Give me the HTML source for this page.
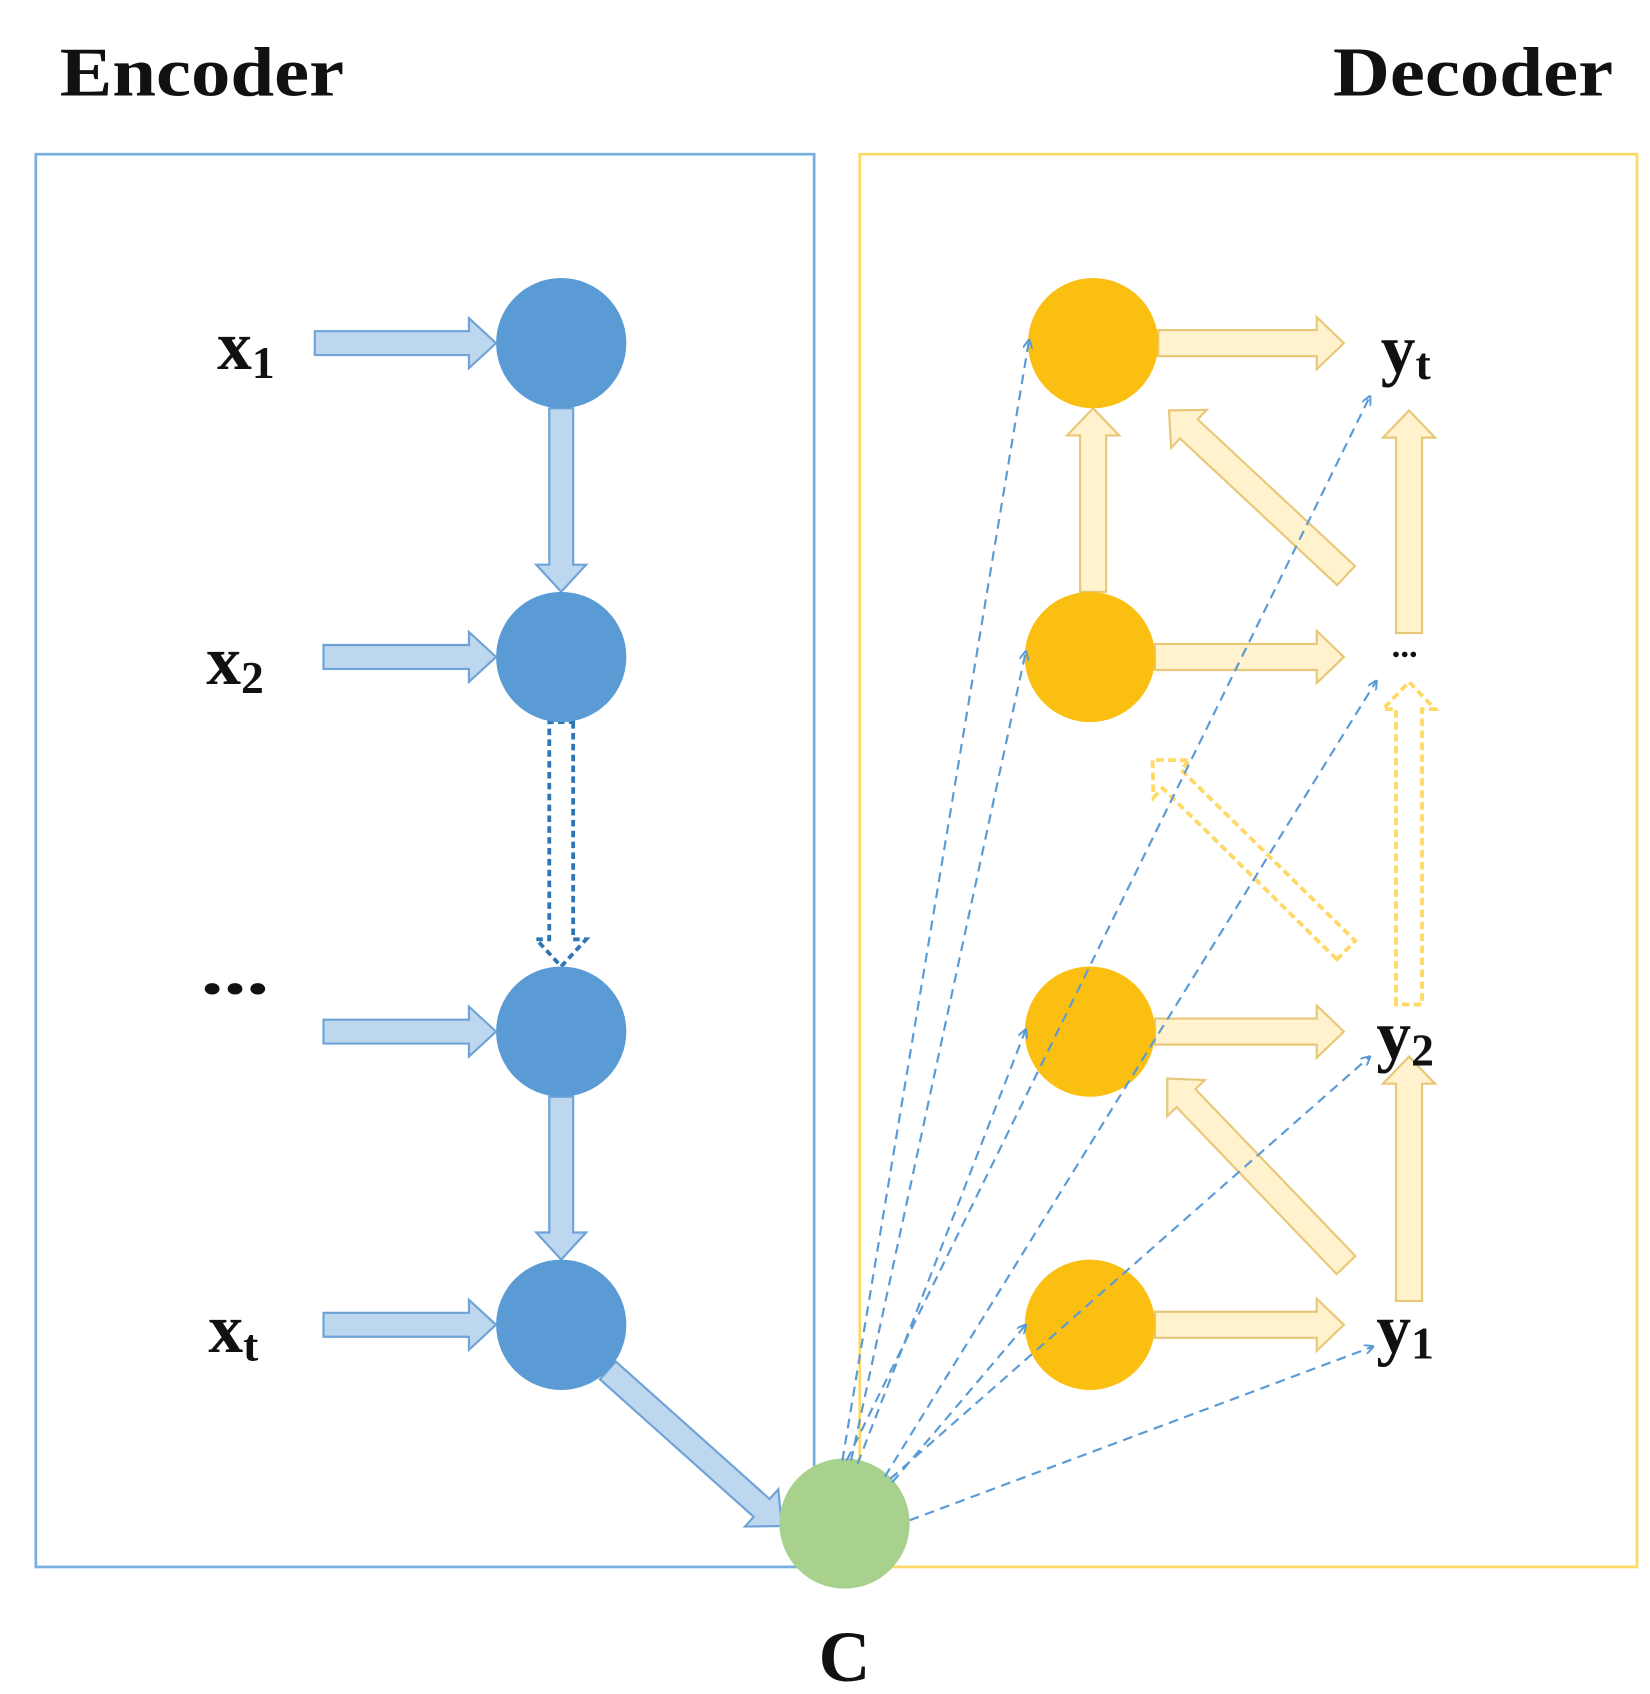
<!DOCTYPE html>
<html><head><meta charset="utf-8"><style>
html,body{margin:0;padding:0;background:#fff;}
svg{display:block;}
text{font-family:"Liberation Serif",serif;font-weight:bold;fill:#111;}
</style></head><body>
<svg width="1650" height="1694" viewBox="0 0 1520 1560" preserveAspectRatio="none" xmlns="http://www.w3.org/2000/svg">
<defs>
<marker id="ah" viewBox="0 0 10 10" refX="9" refY="5" markerWidth="9" markerHeight="9" markerUnits="userSpaceOnUse" orient="auto">
<path d="M0,0 L10,5 L0,10" fill="none" stroke="#5b9bd5" stroke-width="2"/>
</marker>
</defs>
<text x="55" y="88" font-size="64" textLength="262" lengthAdjust="spacingAndGlyphs">Encoder</text>
<text x="1228" y="88" font-size="64" textLength="258" lengthAdjust="spacingAndGlyphs">Decoder</text>
<rect x="33" y="142" width="717" height="1301" fill="none" stroke="#7aaee0" stroke-width="2.5"/>
<rect x="792" y="142" width="716" height="1301" fill="none" stroke="#ffd966" stroke-width="2.5"/>

<g fill="#bdd7ee" stroke="#6fa3d8" stroke-width="2">
<g transform="translate(290,316)"><path d="M0,-11 H142 V-23 L167,0 L142,23 V11 H0 Z"/></g>
<g transform="translate(298,605)"><path d="M0,-11 H134 V-23 L159,0 L134,23 V11 H0 Z"/></g>
<g transform="translate(298,950)"><path d="M0,-11 H134 V-23 L159,0 L134,23 V11 H0 Z"/></g>
<g transform="translate(298,1220)"><path d="M0,-11 H134 V-23 L159,0 L134,23 V11 H0 Z"/></g>
<g transform="translate(517,376) rotate(90)"><path d="M0,-11 H144 V-23 L169,0 L144,23 V11 H0 Z"/></g>
<g transform="translate(517,1010) rotate(90)"><path d="M0,-11 H125 V-23 L150,0 L125,23 V11 H0 Z"/></g>
<g transform="translate(560,1262) rotate(41.8)"><path d="M0,-11 H190 V-23 L215,0 L190,23 V11 H0 Z"/></g>
</g>
<g transform="translate(517,665) rotate(90)"><path d="M0,-11 H200 V-23 L225,0 L200,23 V11 H0 Z" fill="none" stroke="#2e75b6" stroke-width="3.5" stroke-dasharray="6,4"/></g>

<g fill="#fff2cc" stroke="#e8c878" stroke-width="2">
<g transform="translate(1067,316)"><path d="M0,-12 H146 V-24 L171,0 L146,24 V12 H0 Z"/></g>
<g transform="translate(1064,605)"><path d="M0,-12 H149 V-24 L174,0 L149,24 V12 H0 Z"/></g>
<g transform="translate(1064,950)"><path d="M0,-12 H149 V-24 L174,0 L149,24 V12 H0 Z"/></g>
<g transform="translate(1064,1220)"><path d="M0,-12 H149 V-24 L174,0 L149,24 V12 H0 Z"/></g>
<g transform="translate(1007,545) rotate(-90)"><path d="M0,-12 H144 V-24 L169,0 L144,24 V12 H0 Z"/></g>
<g transform="translate(1240,530) rotate(223)"><path d="M0,-12 H198 V-24 L223,0 L198,24 V12 H0 Z"/></g>
<g transform="translate(1298,583) rotate(-90)"><path d="M0,-12 H180 V-24 L205,0 L180,24 V12 H0 Z"/></g>
<g transform="translate(1240,1165) rotate(226.2)"><path d="M0,-12 H213 V-24 L238,0 L213,24 V12 H0 Z"/></g>
<g transform="translate(1298,1198) rotate(-90)"><path d="M0,-12 H200 V-24 L225,0 L200,24 V12 H0 Z"/></g>
</g>
<g fill="none" stroke="#ffd966" stroke-width="3.5" stroke-dasharray="7,4">
<g transform="translate(1298,925) rotate(-90)"><path d="M0,-12 H272 V-24 L297,0 L272,24 V12 H0 Z"/></g>
<g transform="translate(1240,875) rotate(224.5)"><path d="M0,-12 H225 V-24 L250,0 L225,24 V12 H0 Z"/></g>
</g>

<g fill="#5b9bd5">
<circle cx="517" cy="316" r="60"/><circle cx="517" cy="605" r="60"/>
<circle cx="517" cy="950" r="60"/><circle cx="517" cy="1220" r="60"/>
</g>
<g fill="#fbbf12">
<circle cx="1007" cy="316" r="60"/><circle cx="1004" cy="605" r="60"/>
<circle cx="1004" cy="950" r="60"/><circle cx="1004" cy="1220" r="60"/>
</g>
<circle cx="778" cy="1403" r="60" fill="#a9d18e"/>

<g stroke="#5b9bd5" stroke-width="2" stroke-dasharray="9,6" fill="none" marker-end="url(#ah)">
<line x1="776" y1="1345" x2="948" y2="313"/>
<line x1="780" y1="1345" x2="1262" y2="365"/>
<line x1="784" y1="1345" x2="945" y2="600"/>
<line x1="815" y1="1360" x2="1268" y2="627"/>
<line x1="790" y1="1348" x2="945" y2="948"/>
<line x1="820" y1="1362" x2="1262" y2="973"/>
<line x1="822" y1="1365" x2="945" y2="1220"/>
<line x1="838" y1="1400" x2="1265" y2="1240"/>
</g>

<text x="200" y="340" font-size="64">x<tspan font-size="42" dy="8">1</tspan></text>
<text x="190" y="630" font-size="64">x<tspan font-size="42" dy="8">2</tspan></text>
<text x="185" y="915" font-size="64" textLength="63" lengthAdjust="spacingAndGlyphs">...</text>
<text x="192" y="1245" font-size="64">x<tspan font-size="42" dy="8">t</tspan></text>
<text x="1272" y="343" font-size="64">y<tspan font-size="42" dy="6">t</tspan></text>
<text x="1282" y="605" font-size="32">...</text>
<text x="1268" y="975" font-size="64">y<tspan font-size="42" dy="6">2</tspan></text>
<text x="1268" y="1245" font-size="64">y<tspan font-size="42" dy="6">1</tspan></text>
<text x="778" y="1548" font-size="66" text-anchor="middle">C</text>
</svg>
</body></html>
